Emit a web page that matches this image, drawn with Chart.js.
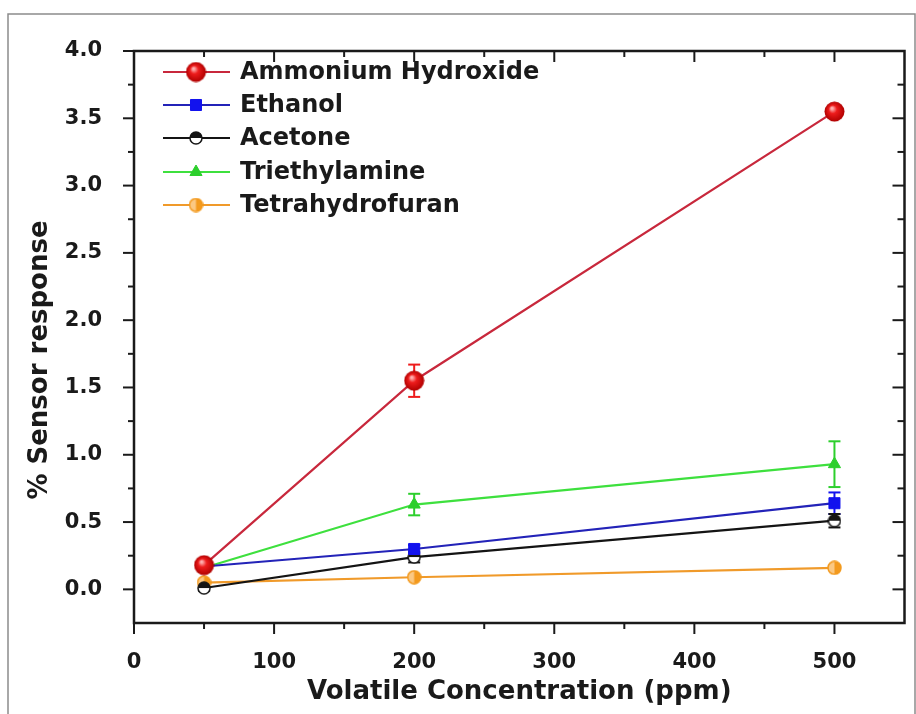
<!DOCTYPE html>
<html>
<head>
<meta charset="utf-8">
<script src="https://cdn.jsdelivr.net/npm/chart.js@4.4.0/dist/chart.umd.min.js"></script>
<style>
    html, body { margin: 0; padding: 0; background: #fff; }
    #chart { display: block; }
</style>
</head>
<body>
<canvas id="chart" width="916" height="714"></canvas>
<script>
// Sensor response vs volatile concentration
const concentrations = [50, 200, 500];
const seriesLabels = ['Ammonium Hydroxide', 'Ethanol', 'Acetone', 'Triethylamine', 'Tetrahydrofuran'];

const ammoniumHydroxide = [0.18, 1.55, 3.55];
const ammoniumHydroxideErr = [0.03, 0.12, 0.03];
const ethanol = [0.17, 0.30, 0.64];
const ethanolErr = [0.02, 0.03, 0.08];
const acetone = [0.01, 0.24, 0.51];
const acetoneErr = [0.02, 0.04, 0.05];
const triethylamine = [0.16, 0.63, 0.93];
const triethylamineErr = [0.03, 0.08, 0.17];
const tetrahydrofuran = [0.05, 0.09, 0.16];
const tetrahydrofuranErr = [0.02, 0.02, 0.02];

const xTickValues = [0, 100, 200, 300, 400, 500];
const yTickValues = [0.0, 0.5, 1.0, 1.5, 2.0, 2.5, 3.0, 3.5, 4.0];

const FONT = '"DejaVu Sans", sans-serif';

// marker images
function sphereMarker(color, dark, size) {
    const c = document.createElement('canvas');
    c.width = size; c.height = size;
    const g = c.getContext('2d');
    const r = size / 2 - 0.5;
    const grad = g.createRadialGradient(size * 0.38, size * 0.34, 1, size / 2, size / 2, r);
    grad.addColorStop(0, '#ffb0b0');
    grad.addColorStop(0.35, color);
    grad.addColorStop(1, dark);
    g.fillStyle = grad;
    g.beginPath(); g.arc(size / 2, size / 2, r, 0, Math.PI * 2); g.fill();
    return c;
}

function halfMarker(fillColor, emptyColor, edge, size, side) {
    const c = document.createElement('canvas');
    c.width = size; c.height = size;
    const g = c.getContext('2d');
    const cx = size / 2, cy = size / 2, r = size / 2 - 1;
    g.fillStyle = emptyColor;
    g.beginPath(); g.arc(cx, cy, r, 0, Math.PI * 2); g.fill();
    g.fillStyle = fillColor;
    g.beginPath();
    if (side === 'top') g.arc(cx, cy, r, Math.PI, Math.PI * 2);
    else g.arc(cx, cy, r, -Math.PI / 2, Math.PI / 2);
    g.closePath(); g.fill();
    g.strokeStyle = edge; g.lineWidth = 1.5;
    g.beginPath(); g.arc(cx, cy, r, 0, Math.PI * 2); g.stroke();
    return c;
}

const series = [
    { values: ammoniumHydroxide, err: ammoniumHydroxideErr, line: '#c8283c', mark: '#ee1c1c',
      style: sphereMarker('#ee1c1c', '#b00000', 21), radius: 10.5 },
    { values: ethanol, err: ethanolErr, line: '#2323b8', mark: '#1212ee', style: 'rect', radius: 7.8 },
    { values: acetone, err: acetoneErr, line: '#141414', mark: '#141414',
      style: halfMarker('#141414', '#ffffff', '#141414', 14, 'top'), radius: 7 },
    { values: triethylamine, err: triethylamineErr, line: '#3ee03e', mark: '#2ccf2c', style: 'triangle', radius: 7 },
    { values: tetrahydrofuran, err: tetrahydrofuranErr, line: '#f09a2a', mark: '#f39a1e',
      style: halfMarker('#f39a1e', '#fbc883', '#f39a1e', 15, 'right'), radius: 7.5 }
];

// error bars + axis frame + legend
const decorations = {
    id: 'decorations',
    beforeDraw(chart) {
        const ctx = chart.ctx;
        ctx.save();
        ctx.fillStyle = '#fff';
        ctx.fillRect(0, 0, chart.width, chart.height);
        ctx.strokeStyle = '#8c8c8c';
        ctx.lineWidth = 1.5;
        ctx.beginPath();
        ctx.moveTo(8, chart.height);
        ctx.lineTo(8, 14);
        ctx.lineTo(915, 14);
        ctx.lineTo(915, chart.height);
        ctx.stroke();

        // y title
        ctx.fillStyle = '#1a1a1a';
        ctx.font = 'bold 26px ' + FONT;
        ctx.textAlign = 'center';
        ctx.textBaseline = 'middle';
        ctx.translate(40, 360);
        ctx.rotate(-Math.PI / 2);
        ctx.fillText('% Sensor response', 0, 0);
        ctx.restore();
    },
    beforeDatasetsDraw(chart) {
        const { ctx, chartArea: a, scales: { x, y } } = chart;
        ctx.save();
        ctx.strokeStyle = '#1a1a1a';
        ctx.lineWidth = 2.5;
        ctx.strokeRect(a.left, a.top, a.right - a.left, a.bottom - a.top);

        const seg = (x1, y1, x2, y2) => { ctx.beginPath(); ctx.moveTo(x1, y1); ctx.lineTo(x2, y2); ctx.stroke(); };
        ctx.lineWidth = 2;
        xTickValues.forEach(v => {
            const px = x.getPixelForValue(v);
            seg(px, a.bottom, px, a.bottom + 11);
            seg(px, a.top, px, a.top + 11);
            const m = x.getPixelForValue(v + 50);
            if (m < a.right - 2) {
                seg(m, a.bottom, m, a.bottom + 6);
                seg(m, a.top, m, a.top + 6);
            }
        });
        yTickValues.forEach(v => {
            const py = y.getPixelForValue(v);
            seg(a.left - 11, py, a.left, py);
            seg(a.right - 12, py, a.right, py);
            const m = y.getPixelForValue(v + 0.25);
            if (m > a.top + 2) {
                seg(a.left - 6, m, a.left, m);
                seg(a.right - 7, m, a.right, m);
            }
        });
        ctx.restore();

        // error bars, behind the lines and markers
        ctx.save();
        ctx.lineWidth = 2;
        series.forEach(s => {
            ctx.strokeStyle = s.mark;
            concentrations.forEach((c, i) => {
                const px = x.getPixelForValue(c);
                const top = y.getPixelForValue(s.values[i] + s.err[i]);
                const bot = y.getPixelForValue(s.values[i] - s.err[i]);
                seg(px, top, px, bot);
                seg(px - 6, top, px + 6, top);
                seg(px - 6, bot, px + 6, bot);
            });
        });
        ctx.restore();
    },
    afterDraw(chart) {
        const ctx = chart.ctx;
        ctx.save();
        const rowY = [72, 105, 138, 172, 205];
        ctx.font = 'bold 24px ' + FONT;
        ctx.textBaseline = 'middle';
        ctx.textAlign = 'left';
        series.forEach((s, i) => {
            const yy = rowY[i];
            ctx.strokeStyle = s.line;
            ctx.lineWidth = 2;
            ctx.beginPath(); ctx.moveTo(163, yy); ctx.lineTo(230, yy); ctx.stroke();
            ctx.fillStyle = s.mark;
            ctx.strokeStyle = s.mark;
            ctx.lineWidth = 1;
            Chart.helpers.drawPoint(ctx, { pointStyle: s.style, radius: s.radius, borderWidth: 1, rotation: 0 }, 196, yy);
            ctx.fillStyle = '#1a1a1a';
            ctx.fillText(seriesLabels[i], 240, yy + 1);
        });
        ctx.restore();
    }
};

const datasets = series.map((s, i) => ({
    label: seriesLabels[i],
    data: concentrations.map((c, j) => ({ x: c, y: s.values[j] })),
    borderColor: s.line,
    backgroundColor: s.mark,
    borderWidth: 2.2,
    tension: 0,
    pointStyle: s.style,
    pointRadius: s.radius,
    pointBorderWidth: 1,
    pointBackgroundColor: s.mark,
    pointBorderColor: s.mark
}));

new Chart(document.getElementById('chart'), {
    type: 'line',
    data: { datasets },
    options: {
        responsive: false,
        animation: false,
        devicePixelRatio: 1,
        layout: { padding: { left: 0, top: 51, right: 11, bottom: 0 } },
        plugins: {
            legend: { display: false },
            tooltip: { enabled: false }
        },
        scales: {
            x: {
                type: 'linear',
                min: 0,
                max: 550,
                grid: { display: false },
                border: { display: false },
                afterBuildTicks: scale => { scale.ticks = xTickValues.map(v => ({ value: v })); },
                afterFit: scale => { scale.height = 91; },
                ticks: {
                    padding: 19,
                    color: '#1a1a1a',
                    font: { family: FONT, size: 21, weight: 'bold' },
                    callback: v => String(v)
                },
                title: {
                    display: true,
                    text: 'Volatile Concentration (ppm)',
                    color: '#1a1a1a',
                    font: { family: FONT, size: 26, weight: 'bold' },
                    padding: { top: 0, bottom: 6 }
                }
            },
            y: {
                min: -0.25,
                max: 4.0,
                grid: { display: false },
                border: { display: false },
                afterBuildTicks: scale => { scale.ticks = yTickValues.map(v => ({ value: v })); },
                afterFit: scale => { scale.width = 134; },
                ticks: {
                    padding: 24,
                    color: '#1a1a1a',
                    font: { family: FONT, size: 21, weight: 'bold' },
                    callback: v => v.toFixed(1)
                }
            }
        }
    },
    plugins: [decorations]
});
</script>
</body>
</html>
